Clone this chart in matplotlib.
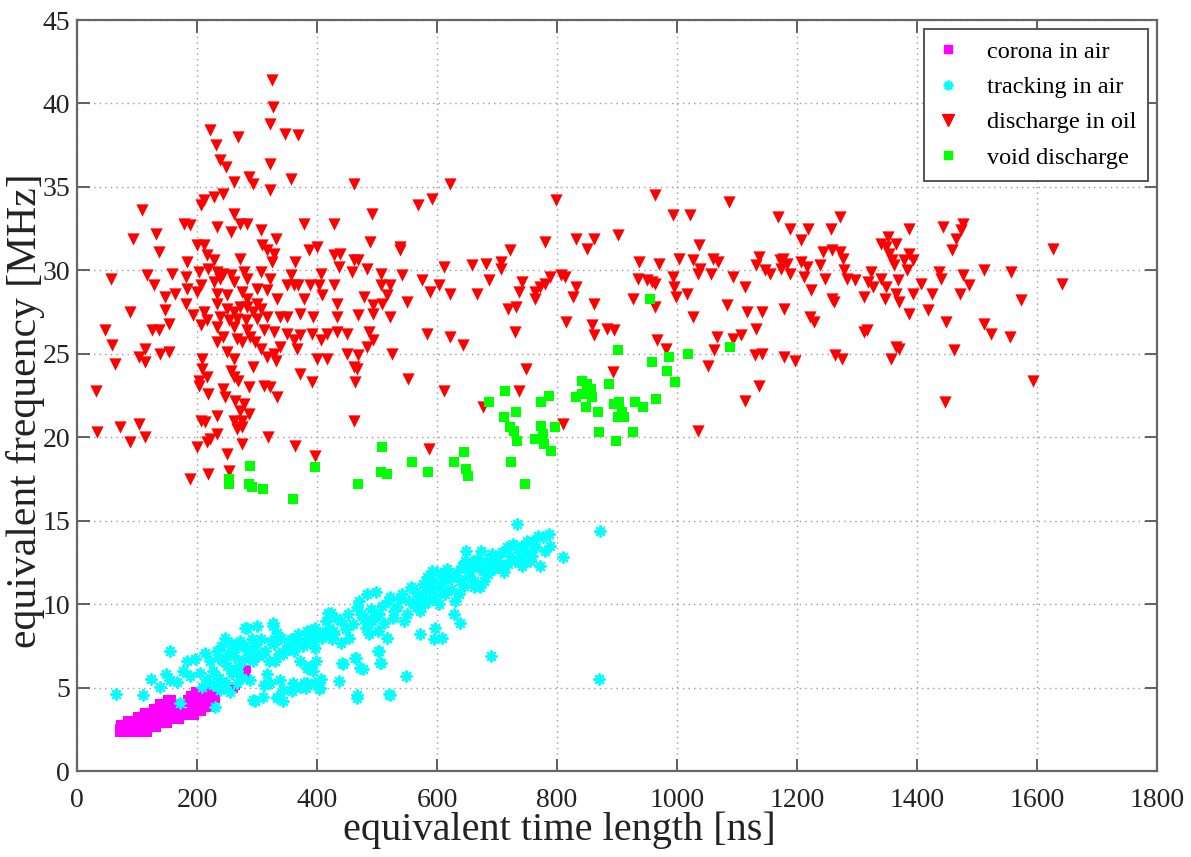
import matplotlib
matplotlib.use("Agg")
import matplotlib.pyplot as plt
from matplotlib.lines import Line2D

# ---------------- data ----------------
corona_x = [70,78,86,94,102,110,118,
            70,78,86,94,102,110,118,126,134,
            72,80,88,96,104,112,120,128,136,144,152,
            84,92,100,108,116,124,132,140,148,156,164,172,
            100,108,116,124,132,140,148,156,164,172,180,188,196,
            112,120,128,136,144,152,160,168,176,184,192,200,208,
            126,134,142,150,158,166,174,190,198,206,214,222,
            136,144,152,160,168,186,194,202,210,218,226,
            150,158,184,192,200,208,216,224,232,
            188,196,204,212,220,228,
            196,204,212,222,232,
            262,265,282,284,171]
corona_y = [2.3,2.3,2.3,2.3,2.3,2.3,2.3,
            2.55,2.55,2.55,2.55,2.55,2.55,2.55,2.55,2.55,
            2.8,2.8,2.8,2.8,2.8,2.8,2.8,2.8,2.8,2.8,2.8,
            3.05,3.05,3.05,3.05,3.05,3.05,3.05,3.05,3.05,3.05,3.05,3.05,
            3.3,3.3,3.3,3.3,3.3,3.3,3.3,3.3,3.3,3.3,3.3,3.3,3.3,
            3.55,3.55,3.55,3.55,3.55,3.55,3.55,3.55,3.55,3.55,3.55,3.55,3.55,
            3.8,3.8,3.8,3.8,3.8,3.8,3.8,3.8,3.8,3.8,3.8,3.8,
            4.05,4.05,4.05,4.05,4.05,4.05,4.05,4.05,4.05,4.05,4.05,
            4.3,4.3,4.3,4.3,4.3,4.3,4.3,4.3,4.3,
            4.55,4.55,4.55,4.55,4.55,4.55,
            4.8,4.8,4.8,4.8,4.8,
            4.9,5.1,5.8,6.1,4.0]

tracking_x = [65,155,110,124,138,149,155,166,177,183,188,197,205,213,222,227,233,236,244,247,
              252,258,263,266,272,275,280,283,288,291,294,297,299,308,311,316,324,327,330,333,
              338,344,344,352,358,366,372,372,383,386,388,391,230,172,208,216,227,238,249,255,
              266,275,
              283,300,327,333,355,372,394,408,419,427,441,463,472,466,502,505,516,521,405,394,
              383,360,343,333,322,310,293,
              380,396,396,398,385,379,382,396,407,404,423,420,429,440,440,454,437,444,465,476,
              466,470,484,498,473,481,492,503,501,503,506,517,518,528,539,520,548,545,556,561,
              572,572,581,583,592,586,594,597,595,608,603,606,617,617,625,628,638,630,639,647,
              649,655,661,666,674,677,679,688,690,699,705,716,719,727,733,738,741,741,755,755,
              760,769,771,787,788,810,871,870,
              410,415,425,432,448,452,460,466,478,486,490,496,508,512,522,526,534,542,550,553,
              560,566,570,576,579,588,598,600,604,610,614,620,624,633,636,642,645,652,658,662,
              668,672,682,685,692,695,702,708,712,722,730,735,745,750,758,765,776,780,
              235,240,250,256,262,268,278,286,292,302,306,314,320,328,336,340,348,356,362,368,
              376,384,390,402]
tracking_y = [4.6,7.2,4.55,5.5,5.05,5.8,5.45,5.35,6.0,6.6,5.7,6.7,5.9,7.1,6.6,6.0,7.2,5.6,6.6,8.0,
              7.0,5.9,7.4,5.25,7.8,6.6,8.6,7.2,5.45,7.9,6.6,4.2,7.6,7.0,5.15,5.8,7.8,8.7,6.6,4.4,
              5.45,7.0,4.2,7.4,4.8,7.8,6.6,5.05,5.25,6.25,8.4,7.8,3.85,4.1,5.05,5.45,5.15,4.85,5.25,4.75,
              6.0,5.6,
              8.6,8.7,8.9,8.3,7.7,7.8,8.3,8.0,9.5,8.4,6.5,6.8,6.2,4.55,7.2,6.5,8.0,4.55,5.0,6.0,
              6.2,5.3,4.85,4.45,5.3,4.45,4.25,
              7.8,8.6,7.4,6.6,6.2,5.3,5.0,5.3,5.5,4.9,9.5,8.6,8.2,9.0,7.7,8.0,5.4,6.4,6.8,6.1,
              4.4,10.2,10.6,10.7,9.4,8.6,9.0,9.4,8.4,7.2,6.5,8.0,10.2,9.6,10.3,4.6,5.7,9.0,11.0,10.0,
              9.6,8.2,10.8,11.6,12.0,10.2,11.4,8.6,7.9,8.0,11.0,11.8,12.1,10.8,11.6,9.4,8.9,10.2,11.4,12.6,
              13.2,12.0,11.0,12.7,13.2,12.0,11.4,12.4,6.9,12.8,12.2,13.4,12.4,13.6,14.8,12.8,13.5,12.3,13.1,12.6,
              13.8,14.1,12.3,14.2,13.5,12.8,14.4,5.5,
              8.3,9.0,7.9,9.2,8.5,9.4,8.8,9.8,9.1,8.2,9.7,9.3,9.9,8.9,10.4,9.2,9.8,10.6,9.4,10.2,
              10.9,9.8,10.5,11.2,10.0,10.9,10.4,11.9,10.0,11.3,10.6,11.6,10.9,11.9,10.6,12.3,11.1,11.7,12.5,11.4,
              12.2,11.0,12.6,11.8,13.0,12.1,12.6,13.1,11.9,12.9,12.6,13.3,13.0,13.8,12.9,13.4,14.0,13.2,
              6.8,7.5,6.3,7.7,6.9,6.3,7.5,6.8,7.3,6.9,7.9,7.2,6.6,7.6,7.0,8.0,7.3,7.9,7.2,8.2,
              7.5,8.4,7.7,8.1]

oil_x = [325,327,321,222,268,346,369,231,239,248,322,356,286,294,261,321,461,244,228,206,
         211,108,492,261,178,189,233,272,283,378,428,256,306,132,94,331,489,200,211,308,
         400,386,317,136,217,272,328,428,439,461,469,183,228,364,325,436,539,
         56,117,158,181,203,219,233,244,256,278,306,322,356,406,458,483,506,
         128,183,206,228,239,261,283,300,350,361,369,389,403,428,506,522,
         164,147,200,233,250,275,317,333,378,408,478,517,
         181,233,283,300,433,494,508,
         89,147,194,211,250,261,272,283,294,306,317,339,350,372,394,433,469,494,522,
         217,239,253,267,281,300,
         153,206,233,261,283,311,328,350,372,392,417,433,450,486,
         47,125,136,244,267,289,361,406,494,233,275,297,
         58,114,139,153,250,306,339,367,483,
         104,328,400,417,450,469,525,
         64,114,208,261,294,317,331,461,467,208,256,372,
         203,217,261,269,392,464,
         31,203,244,286,311,322,219,247,333,264,278,272,286,233,261,275,206,214,461,267,
         275,103,72,34,114,89,233,222,319,217,200,275,364,250,397,219,189,253,
         622,568,592,799,963,993,1022,1087,1168,539,780,831,861,850,902,721,1037,
         612,659,681,706,706,937,970,1003,1026,1060,1068,1038,1035,1057,1136,1132,1146,1155,1171,
         541,575,604,589,622,667,687,741,737,764,764,772,780,789,806,814,831,827,861,
         935,950,958,964,993,995,999,964,927,1017,1093,1113,1084,
         550,719,731,1027,1117,1141,
         583,622,644,730,815,859,861,884,895,967,982,1067,1093,1107,1132,1061,1052,1130,1141,
         552,612,677,736,749,810,894,1137,1113,1035,587,
         1189,1219,1256,1271,1206,1243,1258,1271,1276,1238,1207,1217,1176,1184,1189,1173,
         1212,1246,1279,1284,1296,1223,1258,1261,1323,1318,1326,1340,1348,1311,1347,
         1222,1229,1178,1312,1317,1351,1340,1365,1348,1354,1359,1362,1379,1393,1387,1384,1387,
         1368,1365,1370,1393,1387,1406,1425,1418,1443,1476,1473,1465,1459,1437,1440,1477,1486,
         1471,1511,1556,1449,1512,1523,1555,1574,1627,1642,1462,1365,1370,1357,1263,1275,1178,
         1196,1594,1446]
oil_y = [41.4,39.8,38.8,38.4,38.0,38.2,38.1,37.5,36.6,36.2,36.4,35.5,35.6,35.2,35.3,34.8,35.2,34.6,34.4,33.9,
         34.2,33.6,33.4,33.4,32.8,32.7,32.6,32.8,32.8,32.8,32.8,32.3,32.4,32.2,31.9,31.9,31.7,31.5,31.5,31.5,
         31.4,31.2,31.2,31.1,30.9,30.7,31.0,30.9,31.0,30.6,30.6,30.5,30.6,30.5,30.5,30.2,31.4,
         29.5,29.7,29.8,29.6,29.9,30.1,29.9,29.8,29.7,29.9,29.9,29.5,29.7,29.8,29.9,30.1,29.8,
         29.1,28.9,29.1,29.3,29.5,29.3,29.5,28.9,29.1,29.1,29.1,29.1,29.1,29.1,29.1,29.1,
         28.6,28.4,28.7,28.6,28.5,28.7,28.8,28.3,28.3,28.5,28.4,28.5,
         28.0,28.0,28.3,28.0,28.0,27.9,28.0,
         27.5,27.6,27.3,27.5,27.7,27.5,27.8,27.8,27.5,27.7,27.2,27.2,27.2,27.4,27.2,27.2,27.3,27.4,27.2,
         27.0,27.2,27.0,27.1,27.0,27.1,
         26.8,26.7,26.6,26.6,26.4,26.4,26.3,26.2,26.1,26.2,26.2,26.3,26.2,26.3,
         26.4,26.4,26.4,26.0,25.9,26.0,25.8,25.8,25.8,25.7,25.7,25.7,
         25.5,25.3,25.0,25.1,25.1,25.3,25.4,25.3,25.4,
         24.8,25.0,24.7,24.7,25.0,24.9,25.0,
         24.4,24.5,24.7,24.7,24.2,24.8,24.6,24.2,24.1,24.1,24.0,23.8,
         23.4,23.6,23.6,23.4,23.3,23.3,
         22.8,23.1,22.9,23.0,23.1,23.0,22.6,22.4,22.4,22.2,22.0,21.6,21.4,21.3,21.0,21.0,21.0,20.9,21.0,20.5,
         20.6,20.8,20.6,20.3,20.0,19.7,20.2,19.9,20.0,19.7,19.4,19.6,19.5,19.0,18.9,17.8,17.5,18.0,
         35.2,33.9,34.3,34.2,34.5,33.3,33.3,34.1,33.2,31.2,31.7,31.9,31.9,31.3,32.1,31.2,31.5,
         30.2,30.3,30.4,30.5,30.1,30.5,30.4,30.7,30.6,30.7,30.5,30.1,29.8,29.8,30.8,30.3,30.0,29.8,30.6,
         29.7,29.4,29.1,28.7,28.6,28.6,29.4,29.3,28.7,28.7,28.3,29.0,29.2,29.6,29.7,29.6,29.0,28.4,28.0,
         29.5,29.4,29.3,29.2,29.6,29.0,28.4,27.8,28.3,28.6,29.6,29.0,27.9,
         28.1,27.7,27.8,27.2,27.5,27.5,
         26.2,26.0,25.5,26.3,26.9,26.7,26.1,26.5,26.4,25.8,25.3,26.0,25.9,26.1,26.5,25.2,24.3,24.9,25.0,
         23.5,22.8,21.8,22.8,24.1,20.8,23.9,23.1,22.2,20.4,19.3,
         32.5,32.5,32.5,33.2,31.8,31.1,31.2,31.1,30.7,30.3,30.5,30.2,30.7,30.4,29.8,30.1,
         29.6,29.5,30.0,29.5,29.4,28.8,28.3,28.1,29.9,29.3,29.0,29.5,29.0,28.4,28.3,
         27.2,26.9,27.7,26.3,26.4,32.0,31.6,31.6,31.4,31.0,30.6,30.3,30.6,30.6,31.0,30.0,32.5,
         29.4,28.6,28.1,28.6,27.4,29.2,28.6,27.6,32.6,32.8,32.4,31.9,31.2,29.9,29.5,29.7,29.1,
         28.6,30.0,29.9,26.9,26.8,26.2,26.0,28.2,31.3,29.2,25.2,25.4,25.3,24.7,24.9,24.7,24.8,
         24.6,23.4,22.1]

void_x = [254,254,289,286,292,310,360,396,468,509,507,517,
          559,585,628,645,649,651,687,713,711,732,722,728,733,723,746,774,786,774,776,763,778,790,796,
          842,850,856,831,842,859,849,868,886,870,898,895,903,909,902,912,926,930,944,965,
          901,958,983,986,997,1018,955,1088]
void_y = [17.5,17.2,18.3,17.2,17.0,16.9,16.3,18.2,17.2,19.4,17.9,17.8,
          18.5,17.9,18.5,19.1,18.1,17.7,22.1,22.8,21.2,21.5,20.6,20.4,19.8,18.5,17.2,22.1,22.5,20.7,20.2,19.9,19.6,19.2,20.6,
          23.4,23.2,22.9,22.4,22.6,22.4,21.8,21.5,23.2,20.3,19.8,22.0,22.1,21.5,21.2,21.2,20.3,22.1,21.8,22.3,
          25.2,24.5,24.0,24.8,23.3,25.0,28.3,25.4]

legend_labels = ["corona in air", "tracking in air", "discharge in oil", "void discharge"]
x_ticks = [0, 200, 400, 600, 800, 1000, 1200, 1400, 1600, 1800]
y_ticks = [0, 5, 10, 15, 20, 25, 30, 35, 40, 45]

# ---------------- figure ----------------
plt.rcParams['font.family'] = ['Liberation Serif', 'DejaVu Serif']
fig = plt.figure(figsize=(11.91, 8.57), dpi=100)
ax = fig.add_axes([0.0647, 0.1003, 0.9067, 0.8763])

MAG, CYA, RED, GRN = '#ff00ff', '#00ffff', '#ff0000', '#00ff00'
ast = (8, 2, 0)

ax.scatter(corona_x, corona_y, marker='s', s=34, c=MAG, linewidths=0, zorder=3)
ax.scatter(tracking_x, tracking_y, marker=ast, s=55, c=CYA, edgecolors=CYA, linewidths=1.6, zorder=4)
ax.scatter(oil_x, oil_y, marker='v', s=78, c=RED, linewidths=0, zorder=5)
ax.scatter(void_x, void_y, marker='s', s=45, c=GRN, linewidths=0, zorder=6)

ax.set_xlim(0, 1800)
ax.set_ylim(0, 45)
ax.set_xticks(x_ticks)
ax.set_yticks(y_ticks)
ax.grid(True, linestyle=(0, (1, 3)), color='#999999', linewidth=1.0)
ax.set_axisbelow(True)

frame = '#666666'
for sp in ax.spines.values():
    sp.set_color(frame)
    sp.set_linewidth(1.6)
ax.tick_params(direction='in', length=9, width=1.4, color='#606060',
               top=True, right=True, labelsize=20, labelcolor='#222222')
ax.tick_params(axis='x', pad=12)
ax.tick_params(axis='y', pad=5)

ax.set_xlabel("equivalent time length [ns]", fontsize=29, color='#222222', labelpad=0)
ax.xaxis.set_label_coords(0.447, -0.054, transform=ax.transAxes)
ax.xaxis.label.set_va('top')
ax.set_ylabel("equivalent frequency [MHz]", fontsize=30, color='#222222')
ax.yaxis.set_label_coords(-0.048, 0.48, transform=ax.transAxes)
ax.yaxis.label.set_va('center')

handles = [
    Line2D([], [], linestyle='none', marker='s', markersize=6, color=MAG),
    Line2D([], [], linestyle='none', marker=ast, markersize=7, color=CYA, markeredgewidth=1.5),
    Line2D([], [], linestyle='none', marker='v', markersize=8, color=RED),
    Line2D([], [], linestyle='none', marker='s', markersize=6, color=GRN),
]
leg = ax.legend(handles, legend_labels, loc='upper right', fontsize=17.5,
                frameon=True, fancybox=False, edgecolor='#555555', framealpha=1,
                borderaxespad=0.35, handlelength=1.0, handletextpad=1.1,
                borderpad=0.5, labelspacing=0.55)
leg.get_frame().set_linewidth(1.4)
leg.set_zorder(10)

fig.savefig("out.png", dpi=100)
